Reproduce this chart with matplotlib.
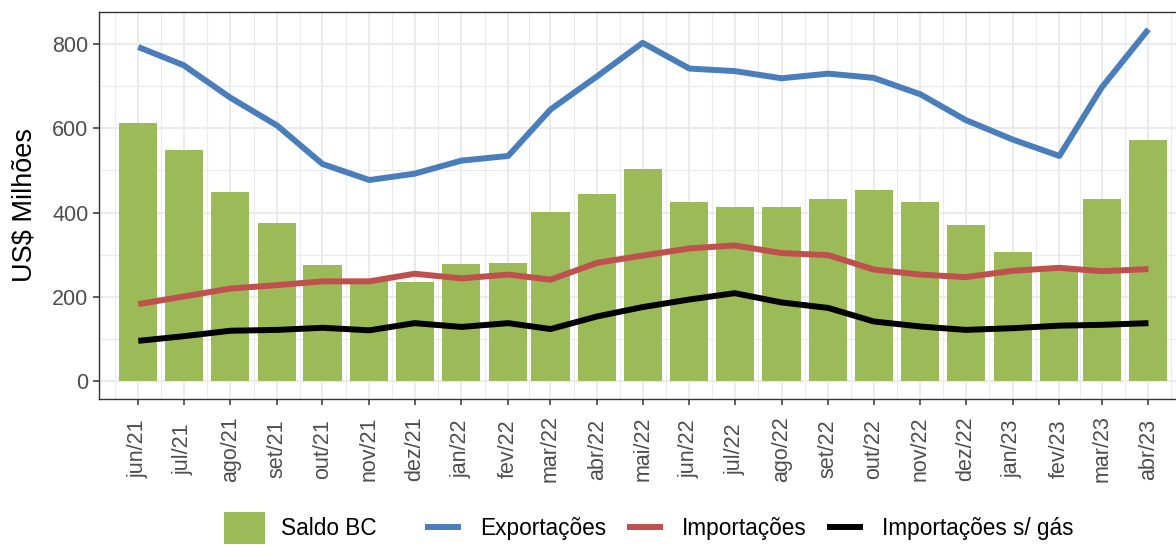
import matplotlib
matplotlib.use("Agg")
import matplotlib.pyplot as plt
import matplotlib.dates as mdates
from matplotlib.patches import Patch
from matplotlib.lines import Line2D
import pandas as pd
import numpy as np

plt.rcParams['font.family'] = ['Liberation Sans', 'DejaVu Sans']

# ---- data ----
months = ["2021-06-01", "2021-07-01", "2021-08-01", "2021-09-01", "2021-10-01", "2021-11-01",
          "2021-12-01", "2022-01-01", "2022-02-01", "2022-03-01", "2022-04-01", "2022-05-01",
          "2022-06-01", "2022-07-01", "2022-08-01", "2022-09-01", "2022-10-01", "2022-11-01",
          "2022-12-01", "2023-01-01", "2023-02-01", "2023-03-01", "2023-04-01"]
tick_labels = ["jun/21", "jul/21", "ago/21", "set/21", "out/21", "nov/21", "dez/21",
               "jan/22", "fev/22", "mar/22", "abr/22", "mai/22", "jun/22", "jul/22",
               "ago/22", "set/22", "out/22", "nov/22", "dez/22", "jan/23", "fev/23",
               "mar/23", "abr/23"]
saldo_bc = [612, 548, 449, 375, 276, 238, 236, 279, 281, 402, 445, 504,
            426, 412, 412, 431, 454, 426, 371, 307, 263, 433, 571]
exportacoes = [792, 749, 672, 606, 515, 477, 492, 523, 534, 644, 723, 802,
               741, 735, 718, 729, 719, 680, 619, 573, 534, 696, 834]
importacoes = [183, 201, 220, 228, 237, 237, 255, 244, 253, 241, 281, 298,
               315, 322, 304, 299, 265, 253, 247, 262, 269, 261, 266]
importacoes_sem_gas = [96, 107, 120, 122, 127, 121, 138, 129, 138, 124, 154, 176,
                       194, 209, 187, 174, 142, 130, 122, 126, 132, 134, 138]

green = "#9BBB59"
blue = "#4A7EBB"
red = "#C0504D"
black = "#000000"

x = pd.to_datetime(months)
xn = mdates.date2num(x)

W, H = 1176, 545
fig = plt.figure(figsize=(W / 100, H / 100), dpi=100)
left, right, top, bottom = 98.7, 1188, 11.7, 399
ax = fig.add_axes([left / W, 1 - bottom / H, (right - left) / W, (bottom - top) / H])

ax.bar(xn, saldo_bc, width=25.2, color=green, zorder=2)
lw = 4.3
ax.plot(xn, exportacoes, color=blue, lw=lw, zorder=3, solid_capstyle='butt', solid_joinstyle='round')
ax.plot(xn, importacoes, color=red, lw=lw, zorder=3, solid_capstyle='butt', solid_joinstyle='round')
ax.plot(xn, importacoes_sem_gas, color=black, lw=lw, zorder=3, solid_capstyle='butt', solid_joinstyle='round')

ax.set_xlim(xn[0] - 26.2, xn[-1] + 26.2)
ax.set_ylim(-41.7, 875.7)

# grid
ax.set_xticks(xn)
ax.set_xticklabels(tick_labels)
allm = mdates.date2num(pd.date_range("2021-05-01", "2023-05-01", freq="MS"))
mids = (allm[:-1] + allm[1:]) / 2
ax.set_xticks(mids, minor=True)
ax.set_yticks([0, 200, 400, 600, 800])
ax.set_yticks([100, 300, 500, 700], minor=True)
ax.grid(which='major', color="#EBEBEB", lw=1.5, zorder=0)
ax.grid(which='minor', color="#EBEBEB", lw=0.8, zorder=0)
ax.set_axisbelow(True)

for s in ax.spines.values():
    s.set_color("#333333")
    s.set_linewidth(1.0)

ax.tick_params(axis='both', which='major', length=4.5, width=1.1, color="#333333",
               labelcolor="#4D4D4D", labelsize=15.5)
ax.tick_params(axis='both', which='minor', length=0)
ax.tick_params(axis='x', pad=31.5)
for lab in ax.get_xticklabels():
    lab.set_rotation(90)
    lab.set_ha('center')
    lab.set_va('center')
ax.tick_params(axis='y', pad=3)

ax.set_ylabel("US$ Milhões", fontsize=19.5, color="black", va='center')
ax.yaxis.set_label_coords((24 - left) / (right - left), 0.5)

# legends
fs = 16.3
fpx = fs * 100 / 72
leg1 = fig.legend(handles=[Patch(facecolor=green, edgecolor='none')], labels=["Saldo BC"],
                  loc='center left', bbox_to_anchor=(224 / W, 1 - 528 / H), frameon=False,
                  borderpad=0, borderaxespad=0, handlelength=41 / fpx, handleheight=41 / fpx,
                  handletextpad=16 / fpx, fontsize=fs)
handles = [Line2D([], [], color=blue, lw=lw, solid_capstyle='butt'),
           Line2D([], [], color=red, lw=lw, solid_capstyle='butt'),
           Line2D([], [], color=black, lw=lw, solid_capstyle='butt')]
leg2 = fig.legend(handles=handles, labels=["Exportações", "Importações", "Importações s/ gás"],
                  loc='center left', bbox_to_anchor=(425 / W, 1 - 528 / H), frameon=False,
                  ncol=3, borderpad=0, borderaxespad=0, handlelength=36 / fpx,
                  handletextpad=19.5 / fpx, columnspacing=20 / fpx, fontsize=fs)

fig.savefig("out.png", dpi=100)
